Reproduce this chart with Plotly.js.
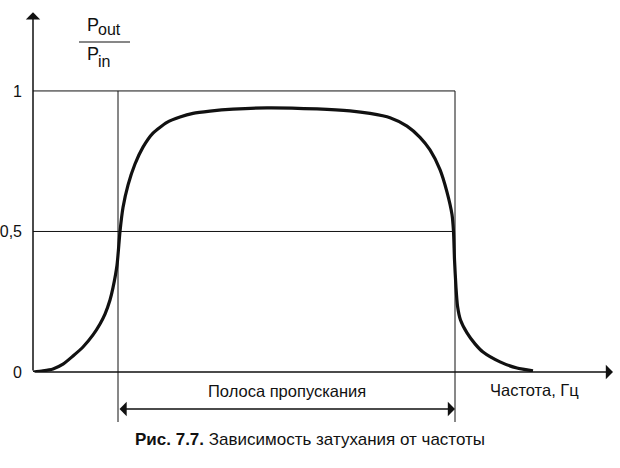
<!DOCTYPE html>
<html>
<head>
<meta charset="utf-8">
<script src="https://cdn.plot.ly/plotly-3.0.1.min.js"></script>
<style>html,body{margin:0;padding:0;background:#fff;}#chart{width:620px;height:468px;}</style>
</head>
<body>
<div id="chart"></div>
<script>
// Data (frequency in arbitrary units, Pout/Pin ratio)
const frequency = [0.0, 1.0, 2.0, 3.0, 4.0, 5.0, 6.0, 6.7, 7.2, 7.7, 8.0, 8.4, 8.7, 9.0, 9.5, 10.2, 11.0, 12.0, 13.4, 14.7, 16.0, 17.7, 20.0, 23.4, 28.4, 31.7, 33.7, 35.7, 37.4, 38.7, 39.7, 40.7, 41.4, 41.9, 42.05, 42.15, 42.3, 42.45, 42.75, 43.4, 44.2, 45.0, 46.7, 48.4, 50.0];
const response  = [0.0, 0.004, 0.011, 0.028, 0.057, 0.089, 0.132, 0.171, 0.206, 0.256, 0.3, 0.38, 0.5, 0.585, 0.665, 0.74, 0.8, 0.85, 0.888, 0.907, 0.92, 0.928, 0.935, 0.94, 0.936, 0.929, 0.92, 0.905, 0.875, 0.835, 0.79, 0.72, 0.64, 0.56, 0.5, 0.4, 0.3, 0.235, 0.185, 0.139, 0.1, 0.071, 0.036, 0.014, 0.004];
const bandEdges = [8.5, 42.2];
const levels = [0.5, 1];
const yTickVals = [0, 0.5, 1];
const yTickText = ['0', '0,5', '1'];
const xAxisTitle = 'Частота, Гц';
const bandLabel = 'Полоса пропускания';
const caption = '<b>Рис. 7.7.</b> Зависимость затухания от частоты';

const W = 620, H = 468;
const M = {l: 33, r: 5, t: 10, b: 96};
const xMax = 58.2, yMax = 1.288;
const xTip = 58.0, yTip = 1.28;
const pw = W - M.l - M.r, ph = H - M.t - M.b;
const px2paperX = p => (p - M.l) / pw;
const py2paperY = p => (H - M.b - p) / ph;

const font = 'Liberation Sans, Arial, sans-serif';
const black = '#111';

const shapes = [];
levels.forEach(v => shapes.push({type: 'line', xref: 'x', yref: 'y', x0: 0, x1: bandEdges[1], y0: v, y1: v, line: {color: black, width: 1}}));
bandEdges.forEach(e => shapes.push({type: 'line', xref: 'x', yref: 'paper', x0: e, x1: e, y0: py2paperY(422), y1: 1 / yMax, line: {color: black, width: 1}}));
// fraction bar of the y-axis label
shapes.push({type: 'line', xref: 'paper', yref: 'paper', x0: px2paperX(79), x1: px2paperX(130), y0: py2paperY(42), y1: py2paperY(42), line: {color: black, width: 1.2}});

const annotations = [
  // axes with arrows
  {x: xTip, y: 0, ax: 0, ay: 0, xref: 'x', yref: 'y', axref: 'x', ayref: 'y', text: '', showarrow: true, arrowhead: 1, arrowsize: 1.6, arrowwidth: 1.5, arrowcolor: black, standoff: 0},
  {x: 0, y: yTip, ax: 0, ay: 0, xref: 'x', yref: 'y', axref: 'x', ayref: 'y', text: '', showarrow: true, arrowhead: 1, arrowsize: 1.6, arrowwidth: 1.5, arrowcolor: black, standoff: 0},
  // pass band double arrow
  {x: bandEdges[1], y: py2paperY(409), ax: bandEdges[0], ay: 0, xref: 'x', yref: 'paper', axref: 'x', ayref: 'pixel', text: '', showarrow: true, arrowside: 'end+start', arrowhead: 1, startarrowhead: 1, arrowsize: 1.6, startarrowsize: 1.6, arrowwidth: 1.5, arrowcolor: black, standoff: 0, startstandoff: 0},
  {x: (bandEdges[0] + bandEdges[1]) / 2, y: py2paperY(391), xref: 'x', yref: 'paper', text: bandLabel, showarrow: false, font: {family: font, size: 16.5, color: black}, xanchor: 'center', yanchor: 'middle'},
  // x-axis title
  {x: px2paperX(534), y: py2paperY(390), xref: 'paper', yref: 'paper', text: xAxisTitle, showarrow: false, font: {family: font, size: 16.5, color: black}, xanchor: 'center', yanchor: 'middle'},
  // y-axis label Pout / Pin
  {x: px2paperX(85), y: py2paperY(25), xref: 'paper', yref: 'paper', text: 'P', showarrow: false, font: {family: font, size: 18, color: black}, xanchor: 'left', yanchor: 'middle'},
  {x: px2paperX(96), y: py2paperY(30), xref: 'paper', yref: 'paper', text: 'out', showarrow: false, font: {family: font, size: 16, color: black}, xanchor: 'left', yanchor: 'middle'},
  {x: px2paperX(85), y: py2paperY(54), xref: 'paper', yref: 'paper', text: 'P', showarrow: false, font: {family: font, size: 18, color: black}, xanchor: 'left', yanchor: 'middle'},
  {x: px2paperX(96), y: py2paperY(62), xref: 'paper', yref: 'paper', text: 'in', showarrow: false, font: {family: font, size: 16, color: black}, xanchor: 'left', yanchor: 'middle'},
  // caption
  {x: px2paperX(310), y: py2paperY(439), xref: 'paper', yref: 'paper', text: caption, showarrow: false, font: {family: font, size: 17, color: black}, xanchor: 'center', yanchor: 'middle'}
];

const trace = {
  x: frequency, y: response, type: 'scatter', mode: 'lines',
  line: {color: black, width: 3.2, shape: 'spline', smoothing: 0.6},
  hoverinfo: 'skip', cliponaxis: false
};

const layout = {
  width: W, height: H,
  margin: M,
  paper_bgcolor: '#fff', plot_bgcolor: '#fff',
  showlegend: false,
  xaxis: {range: [0, xMax], showgrid: false, zeroline: false, showline: false, showticklabels: false, ticks: '', fixedrange: true},
  yaxis: {range: [0, yMax], showgrid: false, zeroline: false, showline: false, ticks: '', tickmode: 'array', tickvals: yTickVals, ticktext: yTickText, ticklabelstandoff: 10, tickfont: {family: font, size: 16, color: black}, fixedrange: true},
  shapes: shapes,
  annotations: annotations
};

Plotly.newPlot('chart', [trace], layout, {staticPlot: true});
</script>
</body>
</html>
